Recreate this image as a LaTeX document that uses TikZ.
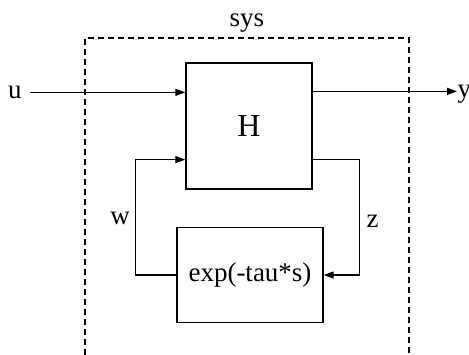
\documentclass[tikz,border=0pt]{standalone}
\usepackage{fontspec}
\setmainfont{Liberation Serif}
\usetikzlibrary{arrows.meta,calc}
\begin{document}
\begin{tikzpicture}[x=1pt,y=-1pt,
  font=\fontsize{27}{31}\selectfont,
  line width=1.2pt,
  blk/.style={draw, line width=1.3pt, inner sep=0pt},
  arr/.style={-{Triangle[length=10pt,width=7pt]}},
  lbl/.style={inner sep=0pt},
  sysbox/.style={line width=1.1pt, dash pattern=on 6pt off 4pt}]
\useasboundingbox (0,0) rectangle (469,355);
% dashed subsystem boundary (open at the bottom)
\draw[sysbox] (85,355) -- (85,38) -- (409,38) -- (409,355);
\node[lbl, anchor=base] (sys) at (247,27) {sys};
% blocks
\node[blk, minimum width=126pt, minimum height=126pt] (H) at (249,126)
  {\fontsize{32}{36}\selectfont H};
\node[blk, minimum width=146pt, minimum height=95pt] (E) at (250,275)
  {\raisebox{-2pt}{exp(-tau*s)}};
% ports
\coordinate (Hin1) at ($(H.north west)+(0,30)$);
\coordinate (Hin2) at ($(H.south west)+(0,-30)$);
\coordinate (Hout1) at ($(H.north east)+(0,29)$);
\coordinate (Hout2) at ($(H.south east)+(0,-30)$);
% external signals
\node[lbl, anchor=base] (u) at (15,99) {u};
\node[lbl, anchor=base west] (y) at (457,98) {y};
\draw[arr] (u.east |- Hin1) ++(8,0) -- (Hin1);
\draw[arr] (Hout1) -- (y.west |- Hout1);
% feedback loop
\draw[arr] (E.west) -- ++(-41,0) |- (Hin2);
\draw[arr] (Hout2) -- ++(47,0) |- (E.east);
\node[lbl] (w) at (120,218.5) {w};
\node[lbl] (z) at (372.5,221) {z};
\end{tikzpicture}
\end{document}
